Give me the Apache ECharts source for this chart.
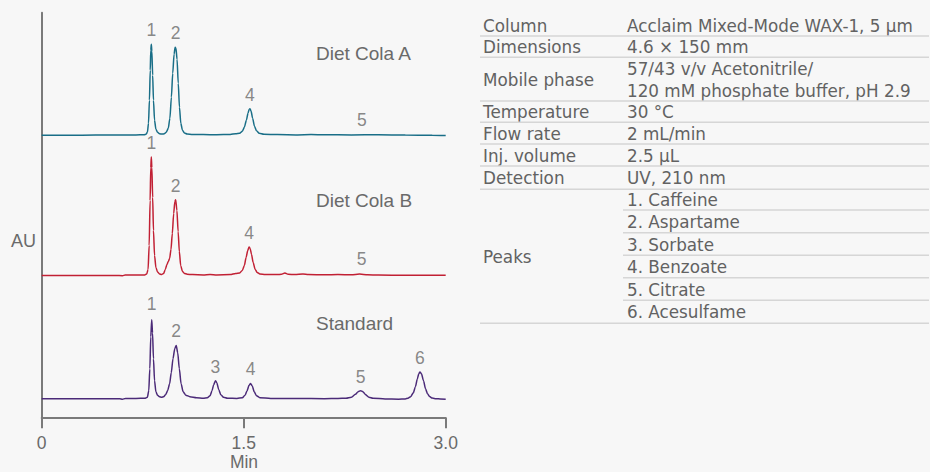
<!DOCTYPE html>
<html><head><meta charset="utf-8">
<script src="https://cdn.jsdelivr.net/npm/echarts@6/dist/echarts.min.js"></script>
<style>html,body{margin:0;padding:0;background:#f7f7f7}#c{width:930px;height:472px}</style>
</head><body><div id="c"></div>
<script>
// ---------- DATA ----------
const tickValues = [0, 1.5, 3.0];
const tickLabels = ['0', '1.5', '3.0'];
const xAxisTitle = 'Min';
const yAxisTitle = 'AU';
const traceNames = ['Diet Cola A', 'Diet Cola B', 'Standard'];

// [time (min), signal above baseline]
const dietColaA = [
  [0,0],[0.2,0],[0.4,0.1],[0.6,0.2],[0.7,0.3],[0.76,0.5],[0.775,1],[0.785,3],[0.793,12],[0.8,35],[0.806,65],[0.81,85],[0.814,91],[0.818,84],[0.824,60],[0.83,35],[0.838,15],[0.848,6],[0.86,3],[0.875,1.5],[0.895,1.1],[0.91,1.5],[0.925,3],[0.94,7],[0.952,17],[0.963,38],[0.973,62],[0.983,81],[0.991,88],[0.997,87],[1.005,76],[1.014,52],[1.023,28],[1.033,12],[1.045,5],[1.06,2.2],[1.08,1.2],[1.12,0.8],[1.2,0.6],[1.3,0.5],[1.4,0.8],[1.44,1.5],[1.47,2],[1.49,4],[1.505,8],[1.52,15],[1.532,22],[1.541,26],[1.547,26.5],[1.555,24],[1.566,17],[1.58,9],[1.595,4.5],[1.615,2],[1.65,1],[1.75,0.6],[1.9,0.3],[2.0,0.6],[2.1,0.4],[2.3,0.3],[2.5,0.4],[2.7,0.1],[2.9,0],[3.0,-0.3]
];
const dietColaB = [
  [0,0],[0.3,0],[0.55,0],[0.6,-0.3],[0.62,0.3],[0.7,0.3],[0.765,0.5],[0.78,1.5],[0.79,6],[0.798,30],[0.805,75],[0.81,108],[0.814,118.4],[0.818,108],[0.824,78],[0.83,45],[0.838,20],[0.848,8],[0.86,3.5],[0.875,1.5],[0.89,0.8],[0.905,2],[0.918,6],[0.93,11],[0.94,14],[0.95,17],[0.96,26],[0.97,42],[0.98,62],[0.989,74],[0.995,75.7],[1.004,65],[1.013,44],[1.022,24],[1.032,10],[1.045,4],[1.06,2],[1.08,1.2],[1.12,0.8],[1.2,0.5],[1.25,1],[1.3,0.5],[1.4,0.8],[1.44,2],[1.47,2.5],[1.49,5],[1.505,10],[1.518,18],[1.53,25],[1.54,28.4],[1.548,27],[1.558,21],[1.57,13],[1.585,6],[1.6,3],[1.62,1.5],[1.66,1],[1.75,0.8],[1.78,1.2],[1.806,2.4],[1.83,1.2],[1.88,0.8],[1.94,1.3],[1.98,0.9],[2.1,0.6],[2.2,0.8],[2.3,0.6],[2.36,1.3],[2.42,0.6],[2.5,0.3],[2.7,0.2],[3.0,0.2]
];
const standard = [
  [0,0],[0.3,0],[0.58,0],[0.6,-0.5],[0.62,0.2],[0.7,0.3],[0.77,0.5],[0.785,1.5],[0.795,8],[0.803,30],[0.81,62],[0.817,79],[0.823,66],[0.83,40],[0.838,18],[0.848,7],[0.86,3.5],[0.875,2],[0.89,1.5],[0.905,2],[0.92,4],[0.935,8],[0.95,15],[0.962,26],[0.975,40],[0.988,50],[0.999,53.3],[1.01,46],[1.022,30],[1.035,15],[1.05,7],[1.07,3.5],[1.1,2],[1.15,1],[1.2,0.5],[1.23,1],[1.25,3],[1.265,8],[1.277,14],[1.29,18],[1.3,16],[1.315,9],[1.33,4],[1.35,1.5],[1.38,0.5],[1.45,0.3],[1.49,1],[1.51,3.5],[1.525,8],[1.54,13.5],[1.551,15.3],[1.563,13],[1.578,7],[1.595,3],[1.62,1],[1.7,0.3],[1.9,0.2],[2.1,0],[2.2,0.2],[2.26,0.5],[2.3,1.5],[2.33,4.5],[2.35,7],[2.368,8],[2.385,7],[2.405,4],[2.43,1.5],[2.46,0.5],[2.55,-0.3],[2.65,-0.5],[2.7,-0.2],[2.72,0.5],[2.74,2],[2.76,6],[2.775,12],[2.79,20],[2.8,25],[2.809,26.7],[2.82,25],[2.835,18],[2.85,10],[2.865,5],[2.88,2.2],[2.9,0.6],[2.93,0],[2.96,-0.3],[3.0,-0.5]
];

// peak labels: number, time, height of the label anchor above baseline
const peakNumA = [1, 2, 4, 5];
const peakTimeA = [0.814, 0.995, 1.546, 2.378];
const peakHeightA = [91, 88, 26.5, 1];
const peakNumB = [1, 2, 4, 5];
const peakTimeB = [0.814, 0.995, 1.541, 2.375];
const peakHeightB = [118.4, 75.7, 28.4, 2.5];
const peakNumS = [1, 2, 3, 4, 5, 6];
const peakTimeS = [0.817, 0.999, 1.29, 1.551, 2.368, 2.809];
const peakHeightS = [80.5, 53.3, 18, 15.3, 8, 26.7];

// conditions table
const condLabels = ['Column', 'Dimensions', 'Mobile phase', 'Temperature', 'Flow rate', 'Inj. volume', 'Detection'];
const condValues = ['Acclaim Mixed-Mode WAX-1, 5 µm', '4.6 × 150 mm', '57/43 v/v Acetonitrile/\n120 mM phosphate buffer, pH 2.9', '30 °C', '2 mL/min', '2.5 µL', 'UV, 210 nm'];
const peaksLabel = 'Peaks';
const peakNames = ['1. Caffeine', '2. Aspartame', '3. Sorbate', '4. Benzoate', '5. Citrate', '6. Acesulfame'];

// ---------- LAYOUT / STYLE ----------
const FONT = "'Liberation Sans', Arial, sans-serif";
const TFONT = "'DejaVu Sans', sans-serif";
const TXT = '#6a6a6a';
const AXIS = '#7a7a7a';
const colors = ['#196e87', '#c12034', '#4b2a78'];
const offsets = [282.5, 142.3, 19];

function shift(data, off) { return data.map(d => [d[0], d[1] + off]); }
function labelData(nums, times, heights, off) {
  return nums.map((n, i) => [times[i], heights[i] + off, n]);
}

const traces = [dietColaA, dietColaB, standard];
const peakSets = [[peakNumA, peakTimeA, peakHeightA], [peakNumB, peakTimeB, peakHeightB], [peakNumS, peakTimeS, peakHeightS]];

const series = [];
traces.forEach((t, i) => {
  series.push({
    type: 'line', name: traceNames[i], data: shift(t, offsets[i]),
    showSymbol: false, symbol: 'none', smooth: 0.25, smoothMonotone: 'x',
    lineStyle: { color: colors[i], width: 1.5 }, z: 3
  });
  series.push({
    type: 'scatter', data: labelData(peakSets[i][0], peakSets[i][1], peakSets[i][2], offsets[i]),
    symbolSize: 1, itemStyle: { color: 'rgba(0,0,0,0)' }, silent: true,
    label: { show: true, position: 'top', distance: 4.5, formatter: p => String(p.value[2]),
      color: TXT, fontSize: 17.5, fontFamily: FONT }
  });
});

// table graphics
const g = [];
const tLeft = 483, vLeft = 627, lineX1 = 480, subX1 = 623, lineX2 = 929;
const fullLines = [14.5, 36, 57.3, 101, 122.3, 144, 166, 189.3];
const subLines = [189.3, 210, 232.7, 255.3, 277.7, 300.3, 323.3];
const LINE = '#d6d6d6';
const tStyle = { fill: '#626262', fontSize: 16.8, fontFamily: TFONT, verticalAlign: 'middle', lineHeight: 22 };
condLabels.forEach((lab, i) => {
  const cy = (fullLines[i] + fullLines[i + 1]) / 2 + 0.5;
  g.push({ type: 'text', style: Object.assign({ text: lab, x: tLeft, y: cy }, tStyle), silent: true });
  g.push({ type: 'text', style: Object.assign({ text: condValues[i], x: vLeft, y: cy }, tStyle), silent: true });
  if (i > 0) g.push({ type: 'line', shape: { x1: lineX1, y1: fullLines[i], x2: lineX2, y2: fullLines[i] }, style: { stroke: LINE, lineWidth: 1.5 }, silent: true });
});
g.push({ type: 'line', shape: { x1: lineX1, y1: fullLines[7], x2: lineX2, y2: fullLines[7] }, style: { stroke: LINE, lineWidth: 1.5 }, silent: true });
g.push({ type: 'text', style: Object.assign({ text: peaksLabel, x: tLeft, y: (subLines[0] + subLines[6]) / 2 + 0.5 }, tStyle), silent: true });
peakNames.forEach((p, i) => {
  const cy = (subLines[i] + subLines[i + 1]) / 2 + 0.5;
  g.push({ type: 'text', style: Object.assign({ text: p, x: vLeft, y: cy }, tStyle), silent: true });
  const x1 = (i === peakNames.length - 1) ? lineX1 : subX1;
  g.push({ type: 'line', shape: { x1: x1, y1: subLines[i + 1], x2: lineX2, y2: subLines[i + 1] }, style: { stroke: LINE, lineWidth: 1.5 }, silent: true });
});
// trace names and axis titles
const nameY = [53.5, 200, 323.3];
traceNames.forEach((n, i) => {
  g.push({ type: 'text', style: { text: n, x: 316, y: nameY[i], fill: TXT, fontSize: 19, fontFamily: FONT, verticalAlign: 'middle' }, silent: true });
});
g.push({ type: 'text', style: { text: yAxisTitle, x: 23.5, y: 241, fill: TXT, fontSize: 18, fontFamily: FONT, align: 'center', verticalAlign: 'middle' }, silent: true });
g.push({ type: 'text', style: { text: xAxisTitle, x: 244, y: 461.5, fill: TXT, fontSize: 17.5, fontFamily: FONT, align: 'center', verticalAlign: 'middle' }, silent: true });

const chart = echarts.init(document.getElementById('c'), null, { renderer: 'svg' });
chart.setOption({
  backgroundColor: '#f7f7f7',
  animation: false,
  grid: { left: 41.7, right: 484.3, top: 12.7, bottom: 54.3, containLabel: false, outerBoundsMode: 'none' },
  xAxis: {
    type: 'value', min: 0, max: 3, interval: 1.5,
    axisLine: { show: true, lineStyle: { color: AXIS, width: 2 } },
    axisTick: { show: true, length: 10.5, lineStyle: { color: AXIS, width: 2 } },
    axisLabel: { margin: 16, color: TXT, fontSize: 17.5, fontFamily: FONT,
      formatter: v => { const k = tickValues.indexOf(v); return k >= 0 ? tickLabels[k] : ''; } },
    splitLine: { show: false }
  },
  yAxis: {
    type: 'value', min: 0, max: 405,
    axisLine: { show: true, lineStyle: { color: AXIS, width: 2 } },
    axisTick: { show: false }, axisLabel: { show: false }, splitLine: { show: false }
  },
  series: series,
  graphic: g
});
</script></body></html>
